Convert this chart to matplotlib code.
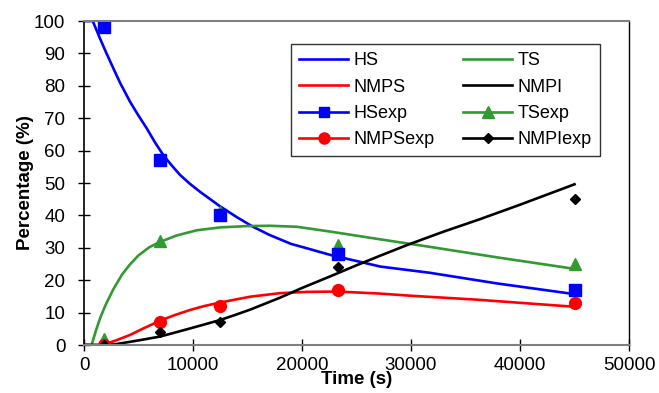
import numpy as np
from matplotlib import pyplot as plt
from matplotlib.lines import Line2D

plt.rcParams['font.family'] = ['Liberation Sans', 'DejaVu Sans']

# model curves
hs_t = [0, 800, 1470, 2000, 2690, 3300, 4220, 5000, 5750, 6500, 7280, 8000, 8810, 9700, 10640,
        11500, 12480, 14000, 15500, 17000, 19000, 20500, 22600, 27200, 31700, 37900, 45000]
hs_v = [100, 100, 94.6, 90.5, 85.4, 81.0, 75.1, 70.8, 66.9, 62.6, 58.6, 55.6, 52.5, 49.8, 47.3,
        45.2, 42.8, 39.5, 36.5, 34.0, 31.2, 29.8, 27.8, 24.2, 22.3, 19.0, 15.7]

ts_t = [0, 700, 1100, 1500, 2000, 2690, 3500, 4200, 4980, 6000, 6970, 8500, 10340, 12500, 14930,
        17000, 19510, 22600, 27200, 31700, 38000, 45000]
ts_v = [0, 0, 4.5, 8.5, 12.5, 17.2, 21.8, 24.8, 27.6, 30.2, 31.8, 33.8, 35.4, 36.3, 36.7,
        36.8, 36.5, 35.0, 32.6, 30.3, 27.0, 23.5]

nmps_t = [0, 1500, 1800, 3000, 4220, 5500, 6970, 8300, 9720, 11000, 12480, 15230, 17980, 20500,
          23200, 27000, 30000, 36000, 45000]
nmps_v = [0, 0, 0.1, 1.5, 3.1, 5.2, 7.5, 9.2, 10.8, 12.0, 13.1, 14.9, 16.0, 16.4,
          16.5, 15.9, 15.2, 14.0, 11.8]

nmpi_t = [0, 1500, 3000, 5140, 6970, 8300, 9720, 11000, 12480, 13800, 15230, 16500, 17980, 20000,
          22600, 25000, 27200, 29600, 33000, 36300, 40000, 45000]
nmpi_v = [0, 0, 0.3, 1.5, 2.6, 3.8, 5.1, 6.3, 7.7, 9.2, 10.9, 12.6, 14.6, 17.6,
          21.2, 24.6, 27.6, 30.8, 35.0, 38.8, 43.3, 49.6]

# experimental points
exp_t = [1800, 7000, 12500, 23300, 45000]
hs_exp = [98, 57, 40, 28, 17]
ts_exp = [2, 32, 41, 31, 25]
nmps_exp = [0, 7, 12, 17, 13]
nmpi_exp = [0, 4, 7, 24, 45]

blue = '#0000FF'
green = '#339933'
red = '#FF0000'
black = '#000000'
lw = 1.9

fig = plt.figure(figsize=(6.59, 3.93), dpi=100)
ax = fig.add_axes([84 / 659, 1 - 345 / 393, 545 / 659, 324 / 393])

ax.plot(hs_t, hs_v, color=blue, lw=lw)
ax.plot(ts_t, ts_v, color=green, lw=lw)
ax.plot(nmps_t, nmps_v, color=red, lw=lw)
ax.plot(nmpi_t, nmpi_v, color=black, lw=lw)

ax.plot(exp_t, ts_exp, ls='none', marker='^', ms=8.5, color=green, mec=green)
ax.plot(exp_t, hs_exp, ls='none', marker='s', ms=8, color=blue, mec=blue)
ax.plot(exp_t, nmps_exp, ls='none', marker='o', ms=8.5, color=red, mec=red)
ax.plot(exp_t, nmpi_exp, ls='none', marker='D', ms=5.5, color=black, mec=black)

ax.set_xlim(0, 50000)
ax.set_ylim(0, 100)
ax.set_xticks(np.arange(0, 50001, 10000))
ax.set_yticks(np.arange(0, 101, 10))
ax.tick_params(direction='inout', length=9, width=1, labelsize=13.5)
ax.tick_params(axis='x', pad=4)
ax.tick_params(axis='y', pad=9)

for s in ['top', 'bottom']:
    ax.spines[s].set_color('#808080')
    ax.spines[s].set_linewidth(1.5)
ax.spines['left'].set_color('black')
ax.spines['right'].set_color('black')
ax.spines['left'].set_linewidth(1.2)
ax.spines['right'].set_linewidth(1.0)

ax.set_xlabel('Time (s)', fontsize=13.5, fontweight='bold', labelpad=-2)
ax.set_ylabel('Percentage (%)', fontsize=13.5, fontweight='bold', labelpad=0)

def h(c, m=None, ms=8):
    return Line2D([], [], color=c, lw=lw, marker=m, ms=ms, mec=c)

handles = [h(blue), h(red), h(blue, 's', 7.5), h(red, 'o', 8),
           h(green), h(black), h(green, '^', 8), h(black, 'D', 5)]
labels = ['HS', 'NMPS', 'HSexp', 'NMPSexp', 'TS', 'NMPI', 'TSexp', 'NMPIexp']
leg = ax.legend(handles, labels, ncol=2, fontsize=13, frameon=True, fancybox=False,
                edgecolor='black', loc='upper left', bbox_to_anchor=(207 / 545, 1 - 23 / 324),
                borderaxespad=0, handlelength=2.7, columnspacing=1.6, labelspacing=0.52,
                handletextpad=0.3, borderpad=0.45)
leg.get_frame().set_linewidth(1.0)

plt.savefig('out.png', dpi=100)
plt.close()
